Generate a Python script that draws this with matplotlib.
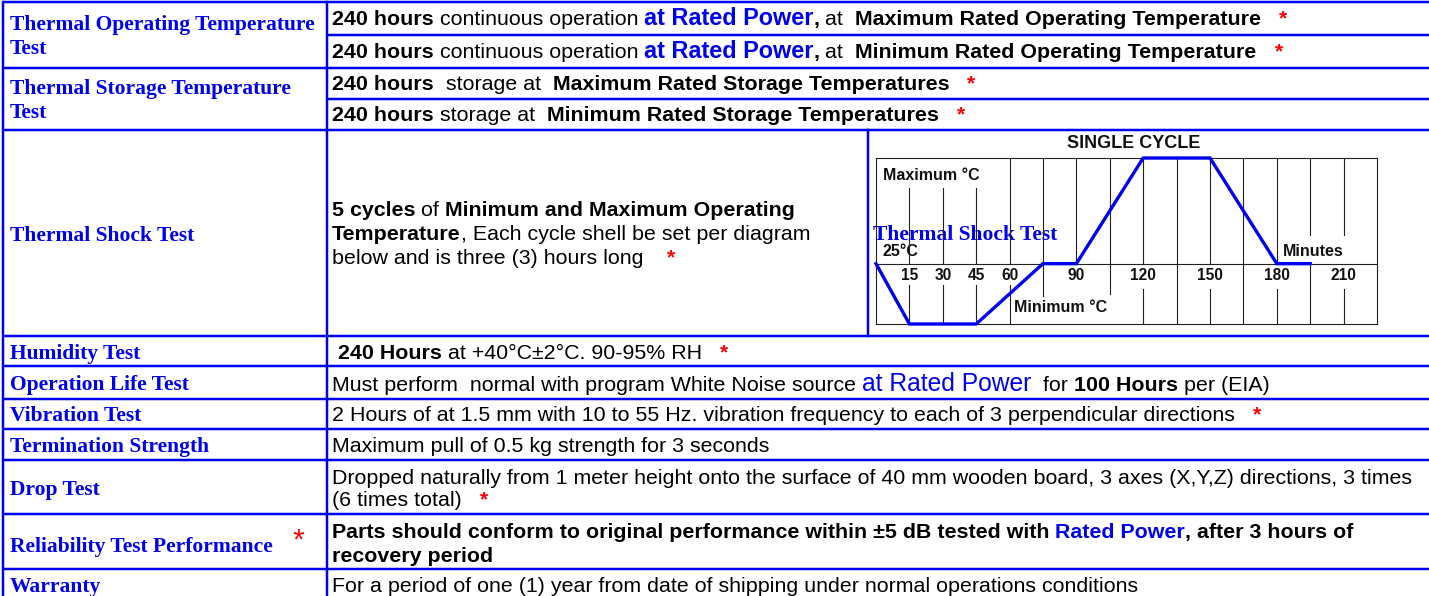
import matplotlib
matplotlib.use("Agg")
import matplotlib.pyplot as plt

W, H = 1429, 596
DPI = 100

# ---------------- data ----------------
row_labels = [
    (["Thermal Operating Temperature", "Test"], [30, 54]),
    (["Thermal Storage Temperature", "Test"], [94, 118]),
    (["Thermal Shock Test"], [241]),
    (["Humidity Test"], [359]),
    (["Operation Life Test"], [390]),
    (["Vibration Test"], [421]),
    (["Termination Strength"], [452]),
    (["Drop Test"], [495]),
    (["Reliability Test Performance"], [552]),
    (["Warranty"], [592]),
]

desc_lines = [
    (25, [("240 hours", "b"), (" continuous operation ", "r"), ("at Rated Power", "blueL"),
          (",", "b"), (" at  ", "r"), ("Maximum Rated Operating Temperature", "b"), ("   *", "red")]),
    (58, [("240 hours", "b"), (" continuous operation ", "r"), ("at Rated Power", "blueL"),
          (",", "b"), (" at  ", "r"), ("Minimum Rated Operating Temperature", "b"), ("   *", "red")]),
    (90, [("240 hours", "b"), ("  storage at  ", "r"), ("Maximum Rated Storage Temperatures", "b"), ("   *", "red")]),
    (121, [("240 hours", "b"), (" storage at  ", "r"), ("Minimum Rated Storage Temperatures", "b"), ("   *", "red")]),
    (216, [("5 cycles", "b"), (" of ", "r"), ("Minimum and Maximum Operating", "b")]),
    (240, [("Temperature", "b"), (", Each cycle shell be set per diagram", "r")]),
    (264, [("below and is three (3) hours long", "r"), ("    *", "red")]),
    (359, [(" 240 Hours", "b"), (" at +40°C±2°C. 90-95% RH", "r"), ("   *", "red")]),
    (391, [("Must perform  normal with program White Noise source ", "r"), ("at Rated Power", "blueLr"),
           ("  for ", "r"), ("100 Hours", "b"), (" per (EIA)", "r")]),
    (421, [("2 Hours of at 1.5 mm with 10 to 55 Hz. vibration frequency to each of 3 perpendicular directions", "r"),
           ("   *", "red")]),
    (452, [("Maximum pull of 0.5 kg strength for 3 seconds", "r")]),
    (484, [("Dropped naturally from 1 meter height onto the surface of 40 mm wooden board, 3 axes (X,Y,Z) directions, 3 times", "r")]),
    (506, [("(6 times total)", "r"), ("   *", "red")]),
    (538, [("Parts should conform to original performance within ±5 dB tested with ", "b"),
           ("Rated Power", "blueB"), (", after 3 hours of", "b")]),
    (562, [("recovery period", "b")]),
    (592, [("For a period of one (1) year from date of shipping under normal operations conditions", "r")]),
]

# thermal shock single cycle profile (minutes, level: -1 = minimum, 0 = 25°C, 1.75 = maximum)
cycle_minutes = [0, 15, 45, 75, 90, 120, 150, 180, 195]
cycle_levels = [0, -1, -1, 0, 0, 1.75, 1.75, 0, 0]
tick_minutes = [15, 30, 45, 60, 90, 120, 150, 180, 210]
grid_minutes = [15, 30, 45, 60, 75, 90, 105, 120, 135, 150, 165, 180, 195, 210]
grid_segments = {
    15: [(1.25, 0), (-0.35, -1)], 30: [(1.25, 0), (-0.35, -1)], 45: [(1.25, 0), (-0.35, -1)],
    60: [(1.75, 0), (-0.35, -1)], 75: [(1.75, -0.53)], 90: [(1.75, 0)], 105: [(1.75, -0.5)],
    120: [(1.75, 0), (-0.42, -1)], 135: [(1.75, -1)], 150: [(1.75, 0), (-0.42, -1)],
    165: [(1.75, -1)], 180: [(1.75, 0), (-0.42, -1)], 195: [(1.75, 0.47), (0, -1)],
    210: [(1.75, 0.47), (-0.42, -1)],
}

# ---------------- styles ----------------
BLUE = "#0000F0"
SANS = ["Liberation Sans", "DejaVu Sans"]
SERIF = ["Liberation Serif", "DejaVu Serif"]
NARROW = ["Liberation Sans Narrow", "Liberation Sans", "DejaVu Sans"]
PX = 72.0 / DPI
FS = 21.35 * PX
STYLES = {
    "r": dict(family=SANS, fontsize=FS, color="black"),
    "b": dict(family=SANS, fontsize=FS, color="black", fontweight="bold"),
    "blueL": dict(family=SANS, fontsize=23.5 * PX, color=BLUE, fontweight="bold"),
    "blueLr": dict(family=SANS, fontsize=24.6 * PX, color=BLUE),
    "blueB": dict(family=SANS, fontsize=FS, color=BLUE, fontweight="bold"),
    "red": dict(family=SANS, fontsize=FS, color="red", fontweight="bold"),
}
LABEL = dict(family=SERIF, fontsize=21.5 * PX, color=BLUE, fontweight="bold")

fig = plt.figure(figsize=(W / DPI, H / DPI), dpi=DPI)
ax = fig.add_axes([0, 0, 1, 1])
ax.set_xlim(0, W)
ax.set_ylim(H, 0)
ax.axis("off")
renderer = fig.canvas.get_renderer()


def width(s, kw):
    t1 = ax.text(0, 0, s + "|", **kw)
    t2 = ax.text(0, 0, "|", **kw)
    w = t1.get_window_extent(renderer).width - t2.get_window_extent(renderer).width
    t1.remove()
    t2.remove()
    return w


def draw_runs(x, y, parts):
    for s, st in parts:
        kw = STYLES[st]
        ax.text(x, y, s, va="baseline", ha="left", **kw)
        x += width(s, kw)


# ---------------- table grid ----------------
LW = 2.5 * PX
full_rows = [2, 68, 130, 336, 366, 399, 429, 460, 514, 569]
sub_rows = [35, 99]
for y in full_rows:
    ax.plot([3, W], [y, y], color=BLUE, lw=LW, solid_capstyle="butt")
for y in sub_rows:
    ax.plot([327, W], [y, y], color=BLUE, lw=LW, solid_capstyle="butt")
ax.plot([3, 3], [2, H], color=BLUE, lw=LW)
ax.plot([327, 327], [2, H], color=BLUE, lw=LW)
ax.plot([868, 868], [130, 336], color=BLUE, lw=LW)

# ---------------- labels ----------------
for lines, ys in row_labels:
    for s, y in zip(lines, ys):
        ax.text(10, y, s, va="baseline", ha="left", **LABEL)
ax.text(292, 549, "*", va="baseline", ha="left", family=SANS, fontsize=30 * PX, color="red")

for y, parts in desc_lines:
    draw_runs(332, y, parts)

# ---------------- diagram ----------------
x0, x1, yt, yb = 876, 1377, 158, 324
ax2 = fig.add_axes([x0 / W, 1 - yb / H, (x1 - x0) / W, (yb - yt) / H])
ax2.set_xlim(0, 225)
ax2.set_ylim(-1, 1.75)
ax2.set_xticks([])
ax2.set_yticks([])
ax2.patch.set_alpha(0)
for sp in ax2.spines.values():
    sp.set_color("#222222")
    sp.set_linewidth(0.8)
ax2.axhline(0, color="#222222", lw=0.8)
for m in grid_minutes:
    for a, b in grid_segments[m]:
        ax2.plot([m, m], [a, b], color="#222222", lw=0.8)
ax2.plot(cycle_minutes, cycle_levels, color=BLUE, lw=2.4, solid_joinstyle="miter", clip_on=False, zorder=5)

DG = dict(family=NARROW, fontweight="bold", color="#111111")
for m in tick_minutes:
    ax2.text(m, -0.2, str(m), ha="center", va="center", fontsize=15.5 * PX, **DG)
ax.text(1134, 143, "SINGLE CYCLE", ha="center", va="center", fontsize=18 * PX, **DG)
ax.text(883, 175, "Maximum °C", ha="left", va="center", fontsize=16 * PX, **DG)
ax.text(883, 252, "25°C", ha="left", va="center", fontsize=16 * PX, **DG)
ax.text(1283, 252, "Minutes", ha="left", va="center", fontsize=16 * PX, **DG)
ax.text(1014, 308, "Minimum °C", ha="left", va="center", fontsize=16 * PX, **DG)
ax.text(873, 240, "Thermal Shock Test", va="baseline", ha="left", zorder=10, **LABEL)

fig.savefig("out.png", dpi=DPI)
